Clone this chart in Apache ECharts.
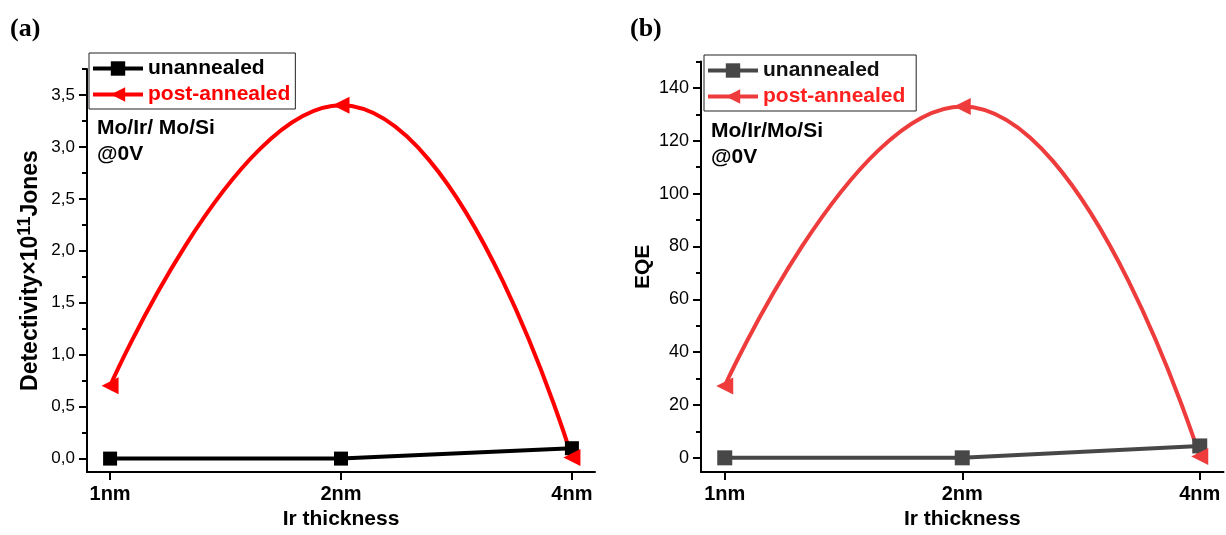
<!DOCTYPE html>
<html>
<head>
<meta charset="utf-8">
<title>Ir thickness: detectivity and EQE</title>
<script src="https://cdn.jsdelivr.net/npm/echarts@6/dist/echarts.min.js"></script>
<style>
  html, body { margin: 0; padding: 0; background: #fff; }
  #chart { width: 1226px; height: 535px; }
</style>
</head>
<body>
<div id="chart"></div>
<script>
// categories (equally spaced on the x axis)
const thicknessLabels = ['1nm', '2nm', '4nm']

// panel (a): detectivity, x10^11 Jones
const detUnannealed = [0.0, 0.0, 0.1]
const detAnnealed = [0.7, 3.4, 0.01]
const detTicks = [0, 0.5, 1.0, 1.5, 2.0, 2.5, 3.0, 3.5]
const detMinorTicks = [0.25, 0.75, 1.25, 1.75, 2.25, 2.75, 3.25, 3.75]

// panel (b): EQE
const eqeUnannealed = [0, 0, 4.5]
const eqeAnnealed = [27.2, 133, 0.5]
const eqeTicks = [0, 20, 40, 60, 80, 100, 120, 140]
const eqeMinorTicks = [10, 30, 50, 70, 90, 110, 130, 150]

const FONT = '"Liberation Sans", Arial, sans-serif'

const toPairs = (arr) => arr.map((v, i) => [i, v])

function xAxisFor(gridIndex) {
  return {
    type: 'value',
    gridIndex,
    min: -0.1,
    max: 2.1,
    name: 'Ir thickness',
    nameLocation: 'middle',
    nameGap: 36,
    nameTextStyle: { color: '#000', fontFamily: FONT, fontWeight: 'bold', fontSize: 21 },
    axisLine: { onZero: false, lineStyle: { color: '#000', width: 2 } },
    axisTick: { customValues: [0, 1, 2], length: 8, lineStyle: { color: '#000', width: 2 } },
    axisLabel: {
      customValues: [0, 1, 2],
      margin: 12,
      color: '#000',
      fontFamily: FONT,
      fontWeight: 'bold',
      fontSize: 20,
      formatter: (v) => thicknessLabels[Math.round(v)],
    },
    splitLine: { show: false },
  }
}

function yAxesFor(gridIndex, min, max, ticks, minor, fontSize, fmt, name, nameGap, rich) {
  const main = {
    type: 'value',
    gridIndex,
    min,
    max,
    position: 'left',
    name,
    nameLocation: 'middle',
    nameGap,
    nameTextStyle: { color: '#000', fontFamily: FONT, fontWeight: 'bold', fontSize: 21, rich },
    axisLine: { show: true, onZero: false, lineStyle: { color: '#000', width: 2 } },
    axisTick: { show: true, customValues: ticks, length: 8, lineStyle: { color: '#000', width: 2 } },
    axisLabel: { customValues: ticks, margin: 12, color: '#000', fontFamily: FONT, fontSize, formatter: fmt },
    splitLine: { show: false },
  }
  // second axis on the same spot only carries the short minor ticks
  const minorAxis = {
    type: 'value',
    gridIndex,
    min,
    max,
    position: 'left',
    offset: 0,
    axisLine: { show: false, onZero: false },
    axisTick: { show: true, customValues: minor, length: 5, lineStyle: { color: '#000', width: 2 } },
    axisLabel: { show: false },
    splitLine: { show: false },
  }
  return [main, minorAxis]
}

const chart = echarts.init(document.getElementById('chart'), null, { renderer: 'canvas' })

const detAxes = yAxesFor(0, -0.13, 3.75, detTicks, detMinorTicks, 17,
  (v) => v.toFixed(1).replace('.', ','),
  '{b|Detectivity×10}{s|11}{b|Jones}', 45,
  {
    b: { fontFamily: FONT, fontWeight: 'bold', fontSize: 23, verticalAlign: 'bottom' },
    s: { fontFamily: FONT, fontWeight: 'bold', fontSize: 18, lineHeight: 18, padding: [0, 0, 10, 0] },
  })
const eqeAxes = yAxesFor(1, -5.4, 150, eqeTicks, eqeMinorTicks, 18,
  (v) => String(v), 'EQE', 47, undefined)

function legendFor(left, top, names, colors) {
  return {
    orient: 'vertical',
    left,
    top,
    padding: [5, 5, 4, 2],
    itemGap: 5,
    itemWidth: 50,
    itemHeight: 18,
    borderColor: '#222',
    borderWidth: 1,
    lineStyle: { width: 4 },
    data: names.map((n, i) => ({
      name: n,
      textStyle: { color: colors[i], fontFamily: FONT, fontWeight: 'bold', fontSize: 21 },
    })),
  }
}

function lineSeries(name, data, xi, yi, color, symbol, size, rotate, smooth) {
  return {
    name,
    type: 'line',
    xAxisIndex: xi,
    yAxisIndex: yi,
    data: toPairs(data),
    smooth,
    symbol,
    symbolSize: size,
    symbolRotate: rotate,
    showAllSymbol: true,
    lineStyle: { color, width: 4 },
    itemStyle: { color },
    emphasis: { disabled: true },
    z: 3,
  }
}

chart.setOption({
  animation: false,
  backgroundColor: '#fff',
  grid: [
    { left: 87, top: 69, width: 508, height: 408 },
    { left: 701, top: 61.5, width: 522.5, height: 411 },
  ],
  xAxis: [xAxisFor(0), xAxisFor(1)],
  yAxis: [detAxes[0], detAxes[1], eqeAxes[0], eqeAxes[1]],
  legend: [
    legendFor(89, 53, ['unannealed', 'post-annealed'], ['#000', '#ff0000']),
    legendFor(704, 55, ['unannealed ', 'post-annealed '], ['#111', '#ff2020']),
  ],
  graphic: [
    { type: 'text', left: 10, top: 16, style: { text: '(a)', font: 'bold 26px "Liberation Serif", "Times New Roman", serif', fill: '#000' } },
    { type: 'text', left: 630, top: 16, style: { text: '(b)', font: 'bold 26px "Liberation Serif", "Times New Roman", serif', fill: '#000' } },
    { type: 'text', left: 97, top: 115, style: { text: 'Mo/Ir/ Mo/Si\n@0V', font: 'bold 21px "Liberation Sans", Arial, sans-serif', lineHeight: 26, fill: '#000' } },
    { type: 'text', left: 711, top: 118, style: { text: 'Mo/Ir/Mo/Si\n@0V', font: 'bold 21px "Liberation Sans", Arial, sans-serif', lineHeight: 26, fill: '#000' } },
  ],
  series: [
    lineSeries('unannealed', detUnannealed, 0, 0, '#000', 'rect', 14, 0, false),
    lineSeries('post-annealed', detAnnealed, 0, 0, '#ff0000', 'triangle', 17, 90, 0.5),
    lineSeries('unannealed ', eqeUnannealed, 1, 2, '#474747', 'rect', 15, 0, false),
    lineSeries('post-annealed ', eqeAnnealed, 1, 2, '#ee3c3c', 'triangle', 17, 90, 0.5),
  ],
})

window.addEventListener('resize', () => chart.resize())
</script>
</body>
</html>
